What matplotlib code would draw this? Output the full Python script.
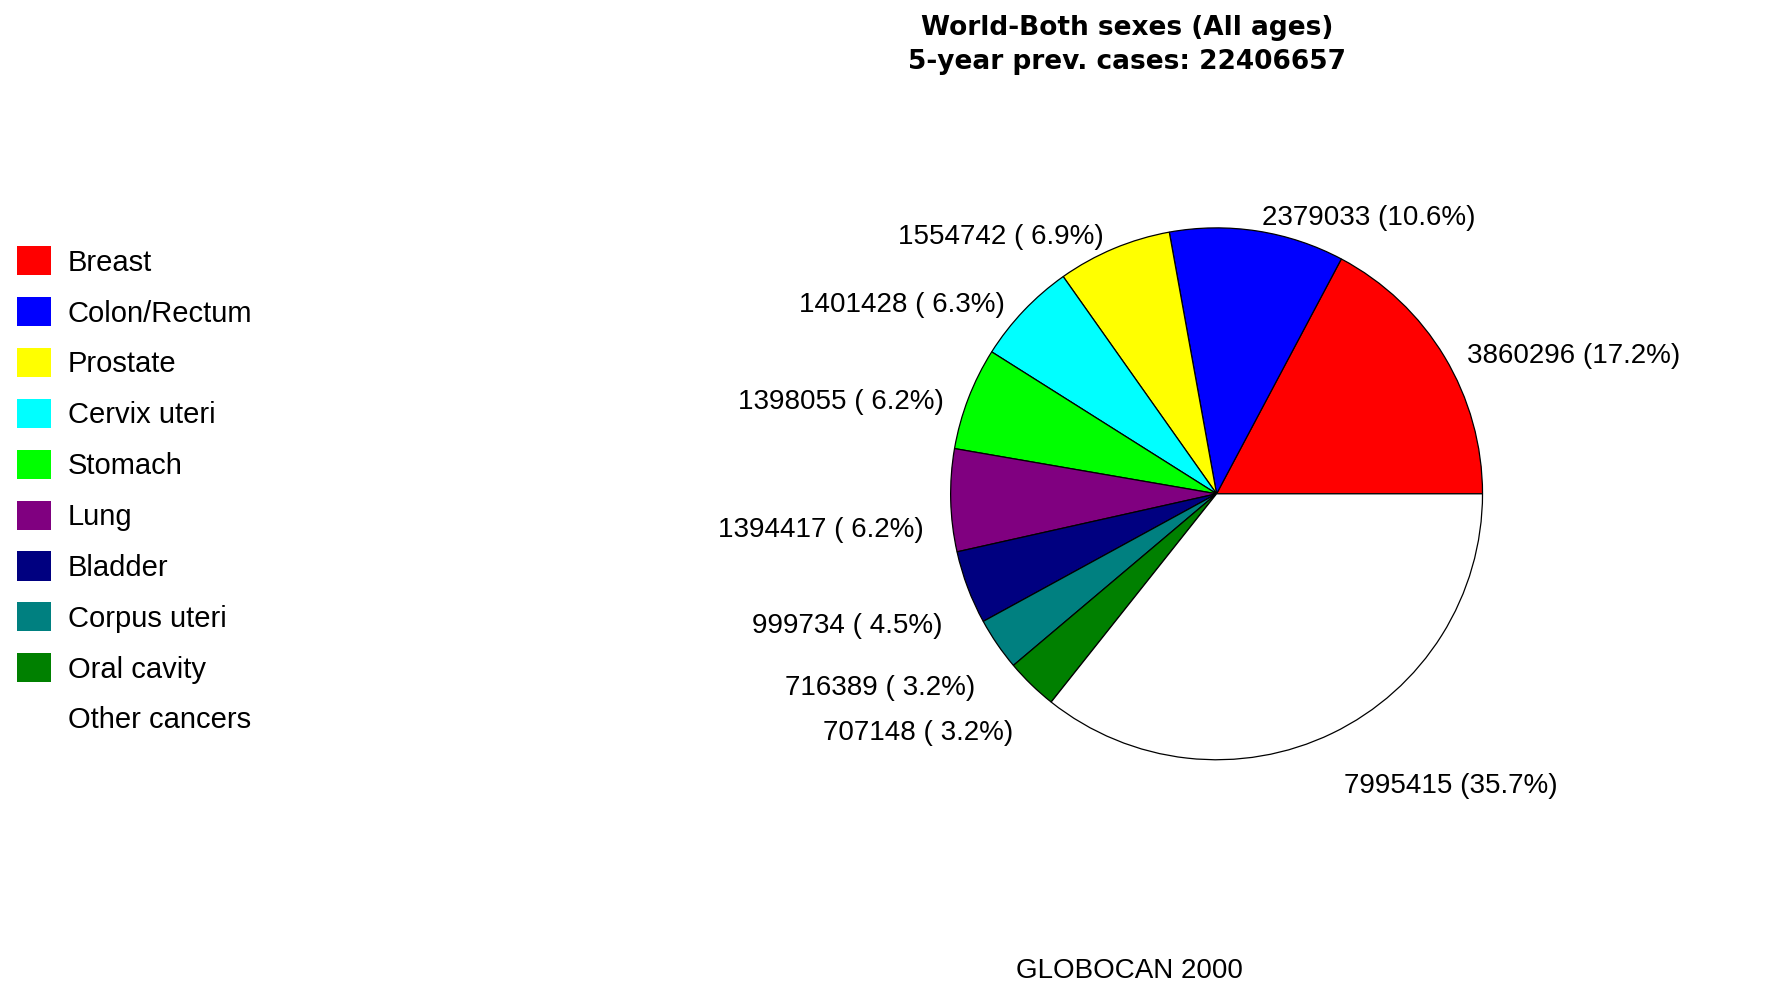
import matplotlib.pyplot as plt

# GLOBOCAN 2000, 5-year prevalence, world, both sexes
sites = ["Breast", "Colon/Rectum", "Prostate", "Cervix uteri", "Stomach",
         "Lung", "Bladder", "Corpus uteri", "Oral cavity", "Other cancers"]
cases = [3860296, 2379033, 1554742, 1401428, 1398055,
         1394417, 999734, 716389, 707148, 7995415]
colors = ["#ff0000", "#0000ff", "#ffff00", "#00ffff", "#00ff00",
          "#800080", "#000080", "#008080", "#008000", "#ffffff"]

total = sum(cases)
labels = [f"{c} ({100 * c / total:4.1f}%)" for c in cases]

font = ["Liberation Sans", "DejaVu Sans"]

fig = plt.figure(figsize=(17.67, 9.97), dpi=100)
ax = fig.add_axes([0.538, 0.2377, 0.301, 0.534])

wedges, texts = ax.pie(cases, labels=labels, colors=colors, startangle=0,
                       counterclock=True, labeldistance=1.1,
                       wedgeprops={"edgecolor": "black", "linewidth": 0.9},
                       textprops={"va": "top", "fontsize": 20, "family": font})
# labels under the centre sit a bit lower in the original
for t in texts:
    x, y = t.get_position()
    if y < 0.05:
        t.set_position((x, y - 0.06))
ax.set_xlim(-1, 1)
ax.set_ylim(-1, 1)
ax.set_aspect("equal")
ax.axis("off")

fig.text(0.638, 0.985, "World-Both sexes (All ages)\n5-year prev. cases: %d" % total,
         ha="center", va="top", fontsize=19, fontweight="bold",
         family="DejaVu Sans", linespacing=1.4)
fig.text(0.639, 0.026, "GLOBOCAN 2000", ha="center", va="center",
         fontsize=20, family=font)

leg = fig.legend(wedges, sites, loc="upper left", bbox_to_anchor=(0.0096, 0.753),
                 frameon=False, prop={"family": font, "size": 21},
                 handlelength=1.16, handleheight=1.16, handletextpad=0.58,
                 labelspacing=0.7, borderaxespad=0, borderpad=0)
for p in leg.get_patches():
    p.set_edgecolor("none")

fig.savefig("out.png", dpi=100)
